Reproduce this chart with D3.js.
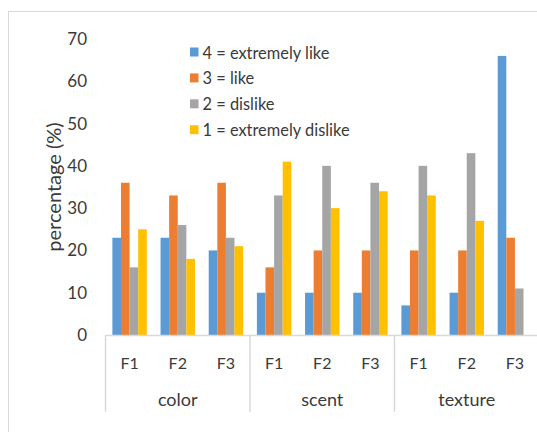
<!DOCTYPE html>
<html>
<head>
<meta charset="utf-8">
<script src="https://cdn.jsdelivr.net/npm/d3@7"></script>
<style>
  html, body { margin: 0; padding: 0; background: #fff; }
  svg { display: block; }
  text { font-family: Lato, "Open Sans", sans-serif; fill: #3a3a3a; }
</style>
</head>
<body>
<svg id="chart" width="537" height="432"></svg>
<script>
// Attributes and formulations
const attributes = ["color", "scent", "texture"];
const formulations = ["F1", "F2", "F3"];

// Rating levels (legend order)
const ratings = ["4 = extremely like", "3 = like", "2 = dislike", "1 = extremely dislike"];
const ratingColors = ["#5B9BD5", "#ED7D31", "#A5A5A5", "#FFC000"];

// Percentages per rating, one entry per attribute/formulation slot
// order: color F1..F3, scent F1..F3, texture F1..F3
const extremelyLike    = [23, 23, 20, 10, 10, 10, 7, 10, 66];
const like             = [36, 33, 36, 16, 20, 20, 20, 20, 23];
const dislike          = [16, 26, 23, 33, 40, 36, 40, 43, 11];
const extremelyDislike = [25, 18, 21, 41, 30, 34, 33, 27, 0];

const yTicks = [0, 10, 20, 30, 40, 50, 60, 70];

const seriesValues = [extremelyLike, like, dislike, extremelyDislike];

const slots = [];
attributes.forEach(a => formulations.forEach(f => slots.push(a + "|" + f)));

const svg = d3.select("#chart");

// chart frame
svg.append("rect")
  .attr("x", 8.5).attr("y", 11.5)
  .attr("width", 540).attr("height", 440)
  .attr("fill", "none").attr("stroke", "#D9D9D9").attr("stroke-width", 1);

const plotLeft = 105.5, plotRight = 539;
const y = d3.scaleLinear().domain([0, 70]).range([335, 39]);
const x = d3.scaleBand().domain(slots).range([plotLeft, plotRight]).padding(0);
const xs = d3.scaleBand().domain(d3.range(4)).range([0, x.bandwidth()])
  .paddingInner(0).paddingOuter(0.8);

// y axis labels (no axis line, no gridlines)
const yAxis = d3.axisLeft(y).tickValues(yTicks).tickSize(0).tickPadding(0);
const yg = svg.append("g").attr("transform", "translate(87,0)").call(yAxis);
yg.select(".domain").remove();
yg.selectAll("text")
  .attr("font-size", 17)
  .style("font-family", "Lato, sans-serif")
  .attr("fill", "#3a3a3a");

// y axis title
svg.append("text")
  .attr("transform", "translate(53,187) rotate(-90)")
  .attr("text-anchor", "middle")
  .attr("dominant-baseline", "central")
  .attr("font-size", 20)
  .text("percentage (%)");

// bars
const barData = [];
slots.forEach((s, i) => {
  seriesValues.forEach((vals, k) => {
    barData.push({ slot: s, k: k, v: vals[i] });
  });
});
svg.append("g").selectAll("rect").data(barData).join("rect")
  .attr("x", d => x(d.slot) + xs(d.k))
  .attr("y", d => y(d.v))
  .attr("width", xs.bandwidth())
  .attr("height", d => y(0) - y(d.v))
  .attr("fill", d => ratingColors[d.k]);

// category axis
const axisColor = "#D9D9D9";
svg.append("line")
  .attr("x1", plotLeft).attr("x2", plotRight)
  .attr("y1", 335.5).attr("y2", 335.5)
  .attr("stroke", axisColor).attr("stroke-width", 1.5);

const groupWidth = x.bandwidth() * formulations.length;
attributes.forEach((a, gi) => {
  const gx = plotLeft + gi * groupWidth;
  svg.append("line")
    .attr("x1", gx).attr("x2", gx)
    .attr("y1", 335).attr("y2", 412)
    .attr("stroke", axisColor).attr("stroke-width", 1.5);
  svg.append("text")
    .attr("x", gx + groupWidth / 2).attr("y", 399)
    .attr("text-anchor", "middle").attr("dominant-baseline", "central")
    .attr("font-size", 18)
    .text(a);
});

svg.append("g").selectAll("text").data(slots).join("text")
  .attr("x", d => x(d) + x.bandwidth() / 2)
  .attr("y", 362)
  .attr("text-anchor", "middle").attr("dominant-baseline", "central")
  .attr("font-size", 16)
  .text(d => d.split("|")[1]);

// legend
const legend = svg.append("g").attr("transform", "translate(190,52)");
const row = legend.selectAll("g").data(ratings).join("g")
  .attr("transform", (d, i) => `translate(0,${i * 25.9})`);
row.append("rect")
  .attr("x", 0).attr("y", -4.5).attr("width", 8.5).attr("height", 9)
  .attr("fill", (d, i) => ratingColors[i]);
row.append("text")
  .attr("x", 12.5).attr("y", 0)
  .attr("dominant-baseline", "central")
  .attr("font-size", 16.4)
  .text(d => d);
</script>
</body>
</html>
